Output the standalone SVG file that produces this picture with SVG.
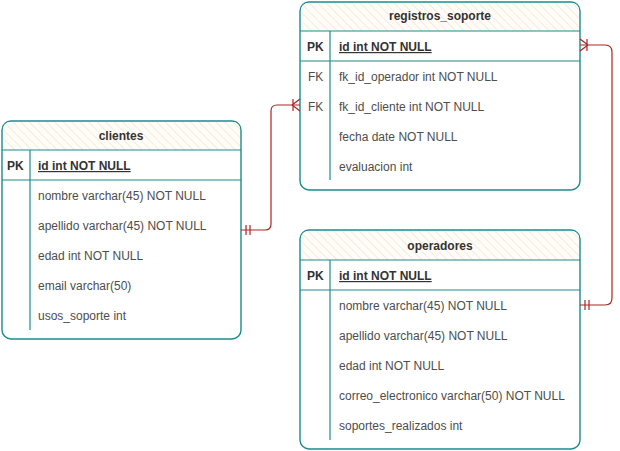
<svg xmlns="http://www.w3.org/2000/svg" width="620" height="451" viewBox="0 0 620 451">
<defs>
<pattern id="hatch" width="6" height="6" patternUnits="userSpaceOnUse" patternTransform="rotate(-45)">
<rect width="6" height="6" fill="#fffdf9"/>
<line x1="0" y1="0" x2="0" y2="6" stroke="#f7dcc2" stroke-width="1.2"/>
</pattern>
<style>
.box{fill:#ffffff;stroke:#1c8c8c;stroke-width:1.4}
.hdr{fill:url(#hatch);stroke:none}
.ln{stroke:#1c8c8c;stroke-width:1.2;fill:none}
.t{font-family:"Liberation Sans",Arial,sans-serif;font-size:12px;fill:#4d4d4d}
.b{font-weight:bold;fill:#333333}
.u{text-decoration:underline}
.title{font-family:"Liberation Sans",Arial,sans-serif;font-size:12px;font-weight:bold;fill:#333333;text-anchor:middle}
.rel{stroke:#b22222;stroke-width:1.2;fill:none}
</style>
</defs>
<rect width="620" height="451" fill="#ffffff"/>

<g id="clientes">
<rect class="box" x="2" y="121" width="239" height="218" rx="9"/>
<path class="hdr" d="M3,150 V130 Q3,122 11,122 H232 Q240,122 240,130 V150 Z"/>
<line class="ln" x1="2" y1="150" x2="241" y2="150"/>
<line class="ln" x1="2" y1="180" x2="241" y2="180"/>
<line class="ln" x1="30" y1="150" x2="30" y2="330"/>
<text class="title" x="121" y="140">clientes</text>
<text class="t b" x="7" y="170">PK</text>
<text class="t b u" x="38" y="170">id int NOT NULL</text>
<text class="t" x="38" y="200">nombre varchar(45) NOT NULL</text>
<text class="t" x="38" y="230">apellido varchar(45) NOT NULL</text>
<text class="t" x="38" y="260">edad int NOT NULL</text>
<text class="t" x="38" y="290">email varchar(50)</text>
<text class="t" x="38" y="320">usos_soporte int</text>
</g>

<g id="registros_soporte">
<rect class="box" x="300" y="2" width="280" height="188" rx="9"/>
<path class="hdr" d="M301,31 V11 Q301,3 309,3 H571 Q579,3 579,11 V31 Z"/>
<line class="ln" x1="300" y1="31" x2="580" y2="31"/>
<line class="ln" x1="300" y1="61" x2="580" y2="61"/>
<line class="ln" x1="330" y1="31" x2="330" y2="180"/>
<text class="title" x="440" y="20">registros_soporte</text>
<text class="t b" x="307" y="51">PK</text>
<text class="t b u" x="339" y="51">id int NOT NULL</text>
<text class="t" x="308" y="81">FK</text>
<text class="t" x="339" y="81">fk_id_operador int NOT NULL</text>
<text class="t" x="308" y="111">FK</text>
<text class="t" x="339" y="111">fk_id_cliente int NOT NULL</text>
<text class="t" x="339" y="141">fecha date NOT NULL</text>
<text class="t" x="339" y="171">evaluacion int</text>
</g>

<g id="operadores">
<rect class="box" x="300" y="230" width="280" height="219" rx="9"/>
<path class="hdr" d="M301,260 V239 Q301,231 309,231 H571 Q579,231 579,239 V260 Z"/>
<line class="ln" x1="300" y1="260" x2="580" y2="260"/>
<line class="ln" x1="300" y1="290" x2="580" y2="290"/>
<line class="ln" x1="330" y1="260" x2="330" y2="440"/>
<text class="title" x="440" y="250">operadores</text>
<text class="t b" x="307" y="280">PK</text>
<text class="t b u" x="339" y="280">id int NOT NULL</text>
<text class="t" x="339" y="310">nombre varchar(45) NOT NULL</text>
<text class="t" x="339" y="340">apellido varchar(45) NOT NULL</text>
<text class="t" x="339" y="370">edad int NOT NULL</text>
<text class="t" x="339" y="400">correo_electronico varchar(50) NOT NULL</text>
<text class="t" x="339" y="430">soportes_realizados int</text>
</g>

<g id="connectors">
<path class="rel" d="M241,230 H265 Q271,230 271,224 V111 Q271,105 277,105 H300"/>
<path class="rel" d="M246,225 V235 M250,225 V235"/>
<path class="rel" d="M292,105 L300,99 M292,105 L300,111 M293,99 V111"/>
<path class="rel" d="M580,45 H605 Q612,45 612,52 V298 Q612,305 605,305 H580"/>
<path class="rel" d="M588,45 L580,39 M588,45 L580,51 M587,39 V51"/>
<path class="rel" d="M585,300 V310 M589,300 V310"/>
</g>
</svg>
